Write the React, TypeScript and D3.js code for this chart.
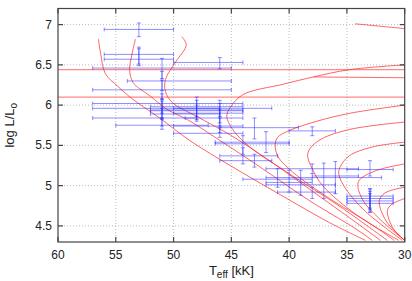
import { useEffect, useRef } from "react";
import * as d3 from "d3";

// stars: Teff [kK], log L, and error ranges
const teff = [53, 53, 53, 51, 51, 51, 51, 51, 51, 51, 51, 48, 48, 48, 46, 46, 46, 46, 46, 46, 43, 44, 44, 42, 43, 38, 41, 40, 39, 38, 37, 36, 38, 33, 33, 33, 33, 33];
const logL = [6.94, 6.63, 6.57, 6.46, 6.3, 6.19, 6.02, 5.96, 5.93, 5.84, 5.75, 5.98, 5.94, 5.89, 6.53, 5.96, 5.9, 5.84, 5.74, 5.65, 5.72, 5.52, 5.37, 5.54, 5.31, 5.68, 5.08, 5.04, 5.01, 4.92, 5.1, 5.12, 5.21, 5.2, 4.87, 4.84, 4.81, 4.78];
const teffHot = [56, 56, 56, 57, 54, 57, 57, 57, 52, 57, 55, 52, 52, 52, 50, 50, 50, 49, 50, 50, 46, 46.4, 46, 46.4, 46, 40, 44, 42, 42, 41, 42, 38, 42, 35, 35, 35, 35, 35];
const teffCool = [50, 50, 50, 45, 45, 45, 44, 46, 44, 48, 47, 44, 44, 46, 44, 41.5, 44, 44, 44, 44, 39.2, 40, 41, 40, 41.5, 36, 38, 38, 36, 36, 32, 34, 34, 31, 31, 31, 31, 31];
const logLLow = [6.85, 6.51, 6.49, 6.33, 6.18, 6.07, 5.9, 5.84, 5.82, 5.74, 5.7, 5.86, 5.82, 5.8, 6.45, 5.86, 5.78, 5.74, 5.66, 5.6, 5.58, 5.39, 5.27, 5.41, 5.23, 5.62, 4.98, 4.92, 4.88, 4.84, 4.84, 4.9, 5.15, 5.12, 4.7, 4.72, 4.67, 4.67];
const logLHigh = [7.02, 6.72, 6.7, 6.58, 6.42, 6.31, 6.14, 6.08, 6.05, 5.96, 5.84, 6.1, 6.06, 6.0, 6.59, 6.06, 6.02, 5.94, 5.84, 5.72, 5.84, 5.62, 5.47, 5.67, 5.39, 5.73, 5.21, 5.19, 5.19, 4.98, 5.28, 5.3, 5.27, 5.31, 4.96, 4.96, 4.93, 4.9];

// evolutionary tracks [Teff kK, log L]
const trackA = [[56.5, 6.82], [56.3, 6.63], [55.9, 6.39], [54.8, 6.23], [53.5, 6.07], [51.2, 5.84], [48.6, 5.56], [45.1, 5.25], [40.8, 4.89], [36.5, 4.54], [33.4, 4.32]];
const trackB = [[53.3, 6.82], [53.6, 6.63], [53.8, 6.44], [53.5, 6.28], [52.0, 6.11], [50.6, 5.95], [48.8, 5.82], [46.4, 5.6], [42.5, 5.23], [38.2, 4.81], [34.3, 4.47], [32.8, 4.32]];
const trackC = [[49.3, 6.85], [48.9, 6.75], [49.8, 6.54], [50.7, 6.32], [50.7, 6.17], [50.1, 6.03], [48.0, 5.86], [45.1, 5.63], [41.7, 5.31], [37.3, 4.86], [33.9, 4.51], [32.1, 4.32]];
const trackD = [[30, 6.5], [34.8, 6.44], [37.9, 6.35], [40.5, 6.26], [44.0, 6.13], [45.1, 5.97], [45.4, 5.86], [44.9, 5.7], [43.4, 5.48], [39.9, 5.14], [35.6, 4.74], [31.5, 4.32]];
const trackE = [[30, 6.0], [34.7, 5.9], [37.6, 5.8], [39.9, 5.69], [41.0, 5.6], [41.2, 5.51], [41.0, 5.37], [39.7, 5.17], [36.5, 4.84], [33.0, 4.53], [30.9, 4.32]];
const trackF = [[30, 5.79], [34.7, 5.7], [37.2, 5.58], [38.2, 5.46], [38.4, 5.37], [38.0, 5.21], [37.1, 5.0], [34.1, 4.63], [30.5, 4.32]];
const trackG = [[30, 5.54], [32.8, 5.48], [34.8, 5.37], [35.6, 5.23], [35.7, 5.14], [35.1, 4.96], [33.4, 4.68], [30.2, 4.32]];
const trackH = [[30, 5.27], [32.6, 5.18], [34.0, 5.05], [33.7, 4.84], [32.2, 4.59], [30, 4.32]];
const trackI = [[30, 4.98], [31.7, 4.91], [32.2, 4.81], [31.6, 4.56], [30, 4.32]];
const trackJ = [[30, 4.84], [31.1, 4.77], [31.5, 4.69], [31.0, 4.47], [30, 4.32]];
const trackTop = [[34.3, 7.01], [32.1, 6.98], [30, 6.95]];
const trackMid = [[37.9, 6.35], [33.9, 6.345], [30, 6.34]];
const flatTracks = [[[60, 6.44], [30, 6.44]], [[60, 6.1], [30, 6.1]]];

const xTicks = [60, 55, 50, 45, 40, 35, 30];
const yTicks = [4.5, 5, 5.5, 6, 6.5, 7];

const App = () => {
  const ref = useRef();

  useEffect(() => {
    const width = 412;
    const height = 281;
    const m = { left: 58, right: 7.3, top: 8.5, bottom: 39 };
    const x = d3.scaleLinear().domain([60, 30]).range([m.left, width - m.right]);
    const y = d3.scaleLinear().domain([4.3, 7.2]).range([height - m.bottom, m.top]);
    const x0 = x.range()[0], x1 = x.range()[1];
    const y0 = y.range()[0], y1 = y.range()[1];

    const svg = d3.select(ref.current);
    svg.selectAll("*").remove();

    svg.append("defs").append("clipPath").attr("id", "plotclip")
      .append("rect").attr("x", x0).attr("y", y1).attr("width", x1 - x0).attr("height", y0 - y1);

    // grid
    const grid = svg.append("g").attr("stroke", "#bbb").attr("stroke-dasharray", "1,2");
    grid.selectAll(".gx").data(xTicks.slice(1, -1)).enter().append("line")
      .attr("x1", (d) => x(d)).attr("x2", (d) => x(d)).attr("y1", y0).attr("y2", y1);
    grid.selectAll(".gy").data(yTicks).enter().append("line")
      .attr("x1", x0).attr("x2", x1).attr("y1", (d) => y(d)).attr("y2", (d) => y(d));

    const plot = svg.append("g").attr("clip-path", "url(#plotclip)");

    // tracks
    const line = d3.line().x((d) => x(d[0])).y((d) => y(d[1])).curve(d3.curveCatmullRom);
    flatTracks.forEach((t) =>
      plot.append("path").attr("d", line(t)).attr("fill", "none").attr("stroke", "#ff6060").attr("stroke-opacity", 0.75).attr("stroke-width", 1.2)
    );
    [trackA, trackB, trackC, trackD, trackE, trackF, trackG, trackH, trackI, trackJ, trackTop, trackMid].forEach((t) =>
      plot.append("path").attr("d", line(t)).attr("fill", "none").attr("stroke", "#ff3030").attr("stroke-opacity", 0.75).attr("stroke-width", 1)
    );

    // error bars
    const cap = 2;
    const eb = plot.append("g").attr("stroke", "#2020ff").attr("stroke-opacity", 0.5).attr("stroke-width", 1);
    teff.forEach((t, i) => {
      const px = x(t), py = y(logL[i]);
      const xa = x(teffHot[i]), xb = x(teffCool[i]);
      const ya = y(logLLow[i]), yb = y(logLHigh[i]);
      eb.append("line").attr("x1", xa).attr("x2", xb).attr("y1", py).attr("y2", py);
      eb.append("line").attr("x1", xa).attr("x2", xa).attr("y1", py - cap).attr("y2", py + cap);
      eb.append("line").attr("x1", xb).attr("x2", xb).attr("y1", py - cap).attr("y2", py + cap);
      eb.append("line").attr("x1", px).attr("x2", px).attr("y1", ya).attr("y2", yb);
      eb.append("line").attr("x1", px - cap).attr("x2", px + cap).attr("y1", ya).attr("y2", ya);
      eb.append("line").attr("x1", px - cap).attr("x2", px + cap).attr("y1", yb).attr("y2", yb);
    });

    // frame + ticks
    const ax = svg.append("g").attr("stroke", "#444").attr("stroke-width", 1.2);
    ax.append("rect").attr("x", x0).attr("y", y1).attr("width", x1 - x0).attr("height", y0 - y1).attr("fill", "none");
    const tl = 5;
    xTicks.forEach((d) => {
      ax.append("line").attr("x1", x(d)).attr("x2", x(d)).attr("y1", y0).attr("y2", y0 - tl);
      ax.append("line").attr("x1", x(d)).attr("x2", x(d)).attr("y1", y1).attr("y2", y1 + tl);
    });
    yTicks.forEach((d) => {
      ax.append("line").attr("x1", x0).attr("x2", x0 + tl).attr("y1", y(d)).attr("y2", y(d));
      ax.append("line").attr("x1", x1).attr("x2", x1 - tl).attr("y1", y(d)).attr("y2", y(d));
    });

    const font = "Liberation Sans, Arial, sans-serif";
    svg.selectAll(".xl").data(xTicks).enter().append("text")
      .attr("x", (d) => x(d)).attr("y", y0 + 17).attr("text-anchor", "middle")
      .attr("font-family", font).attr("font-size", 12).attr("fill", "#222").text((d) => d);
    svg.selectAll(".yl").data(yTicks).enter().append("text")
      .attr("x", x0 - 6).attr("y", (d) => y(d) + 4).attr("text-anchor", "end")
      .attr("font-family", font).attr("font-size", 12).attr("fill", "#222").text((d) => d);

    const xt = svg.append("text").attr("x", (x0 + x1) / 2).attr("y", height - 6).attr("text-anchor", "middle")
      .attr("font-family", font).attr("font-size", 13).attr("fill", "#222");
    xt.append("tspan").text("T");
    xt.append("tspan").attr("dy", 3).attr("font-size", 10).text("eff");
    xt.append("tspan").attr("dy", -3).text(" [kK]");

    const yt = svg.append("text").attr("transform", `translate(14,${(y0 + y1) / 2}) rotate(-90)`).attr("text-anchor", "middle")
      .attr("font-family", font).attr("font-size", 13).attr("fill", "#222");
    yt.append("tspan").text("log L/L");
    yt.append("tspan").attr("dy", 3).attr("font-size", 10).text("o");
  }, []);

  return <svg ref={ref} width={412} height={281} style={{ position: "absolute", left: 0, top: 0, background: "#fff" }} />;
};

export default App;
